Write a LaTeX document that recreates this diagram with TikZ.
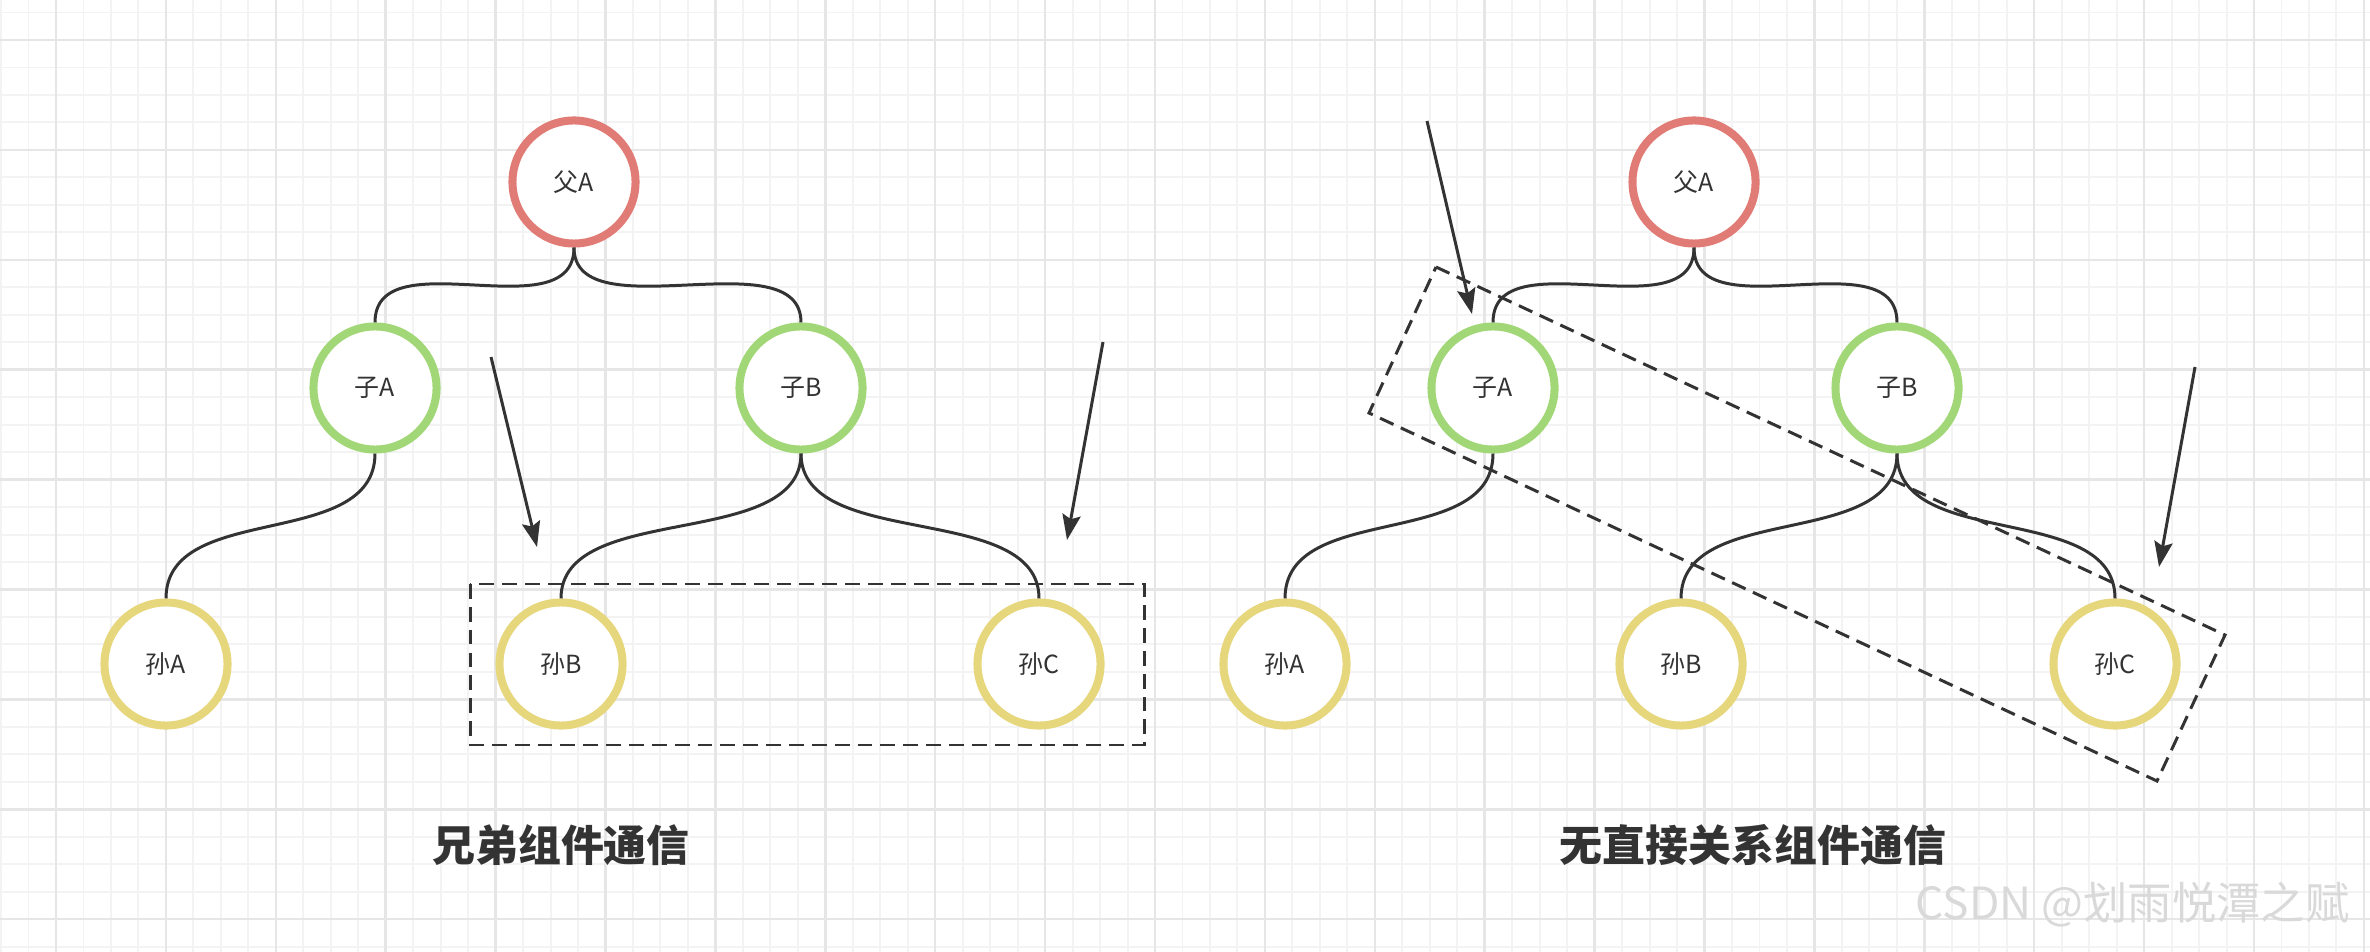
\documentclass[tikz,border=0pt]{standalone}
\usepackage{fontspec}
\setmainfont{Noto Sans CJK SC}
\usetikzlibrary{arrows.meta}
\definecolor{txt}{HTML}{333333}
\definecolor{redc}{HTML}{E07B75}
\definecolor{greenc}{HTML}{A2D778}
\definecolor{yellowc}{HTML}{E6D67C}
\definecolor{gridminor}{HTML}{F3F3F3}
\definecolor{gridmajor}{HTML}{E6E6E6}
\definecolor{wm}{HTML}{D9D9D9}
\begin{document}
\begin{tikzpicture}[x=0.01cm,y=-0.01cm,
  tnode/.style={circle, minimum size=12.3mm, inner sep=0pt, line width=2.28pt, fill=white, text=txt, font=\fontsize{7.1pt}{8pt}\selectfont},
  rnode/.style={tnode, draw=redc},
  gnode/.style={tnode, draw=greenc},
  ynode/.style={tnode, draw=yellowc},
  link/.style={draw=txt, line width=0.85pt},
  pointer/.style={draw=txt, line width=0.85pt, -{Stealth[length=7.2pt,width=5.2pt,inset=1.2pt]}},
  selbox/.style={draw=txt, line width=0.85pt, dash pattern=on 4.2pt off 2.3pt},
  minorline/.style={draw=gridminor, line width=0.55pt},
  majorline/.style={draw=gridmajor, line width=0.7pt},
  title/.style={text=txt, font=\fontsize{12.2pt}{14pt}\selectfont\bfseries},
  watermark/.style={text=wm, font=\fontsize{12.6pt}{14pt}\selectfont}]
\useasboundingbox (0,0) rectangle (2370,952);
\fill[white] (0,0) rectangle (2370,952);
\begin{scope}
\clip (0,0) rectangle (2370,952);
\foreach \i in {-2,...,84} {\pgfmathsetmacro\xx{56+27.475*\i}\draw[minorline] (\xx,0) -- (\xx,952);}
\foreach \j in {-2,...,33} {\pgfmathsetmacro\yy{40+27.475*\j}\draw[minorline] (0,\yy) -- (2370,\yy);}
\foreach \i in {0,...,21} {\pgfmathsetmacro\xx{56+109.9*\i}\draw[majorline] (\xx,0) -- (\xx,952);}
\foreach \j in {0,...,8} {\pgfmathsetmacro\yy{40+109.9*\j}\draw[majorline] (0,\yy) -- (2370,\yy);}
\end{scope}

% left tree
\node[rnode] (LfA) at (574,182) {父A};
\node[gnode] (LzA) at (375,388) {子A};
\node[gnode] (LzB) at (801,388) {子B};
\node[ynode] (LsA) at (166,664) {孙A};
\node[ynode] (LsB) at (561,664) {孙B};
\node[ynode] (LsC) at (1039,664) {孙C};
\draw[link] (LfA.south) .. controls +(0,85) and +(0,-85) .. (LzA.north);
\draw[link] (LfA.south) .. controls +(0,85) and +(0,-85) .. (LzB.north);
\draw[link] (LzA.south) .. controls +(0,98) and +(0,-98) .. (LsA.north);
\draw[link] (LzB.south) .. controls +(0,98) and +(0,-98) .. (LsB.north);
\draw[link] (LzB.south) .. controls +(0,98) and +(0,-98) .. (LsC.north);
\draw[selbox] (470,584) rectangle (1144,745);

% right tree
\node[rnode] (RfA) at (1694,182) {父A};
\node[gnode] (RzA) at (1493,388) {子A};
\node[gnode] (RzB) at (1897,388) {子B};
\node[ynode] (RsA) at (1285,664) {孙A};
\node[ynode] (RsB) at (1681,664) {孙B};
\node[ynode] (RsC) at (2115,664) {孙C};
\draw[link] (RfA.south) .. controls +(0,85) and +(0,-85) .. (RzA.north);
\draw[link] (RfA.south) .. controls +(0,85) and +(0,-85) .. (RzB.north);
\draw[link] (RzA.south) .. controls +(0,98) and +(0,-98) .. (RsA.north);
\draw[link] (RzB.south) .. controls +(0,98) and +(0,-98) .. (RsB.north);
\draw[link] (RzB.south) .. controls +(0,98) and +(0,-98) .. (RsC.north);
\draw[selbox] (1436,267) -- (2225,635) -- (2157,781) -- (1369,413) -- cycle;

% pointers
\coordinate (p1s) at (491,357); \coordinate (p1e) at (537,547);
\coordinate (p2s) at (1103,342); \coordinate (p2e) at (1067,540);
\coordinate (p3s) at (1427,121); \coordinate (p3e) at (1472,314);
\coordinate (p4s) at (2195,367); \coordinate (p4e) at (2159,567);
\draw[pointer] (p1s) -- (p1e);
\draw[pointer] (p2s) -- (p2e);
\draw[pointer] (p3s) -- (p3e);
\draw[pointer] (p4s) -- (p4e);

% titles
\node[title] (t1) at (561,845) {兄弟组件通信};
\node[title] (t2) at (1753,845) {无直接关系组件通信};
\node[watermark, anchor=west, inner sep=0pt] (wm) at (1915,905) {CSDN @划雨悦潭之赋};
\end{tikzpicture}
\end{document}
